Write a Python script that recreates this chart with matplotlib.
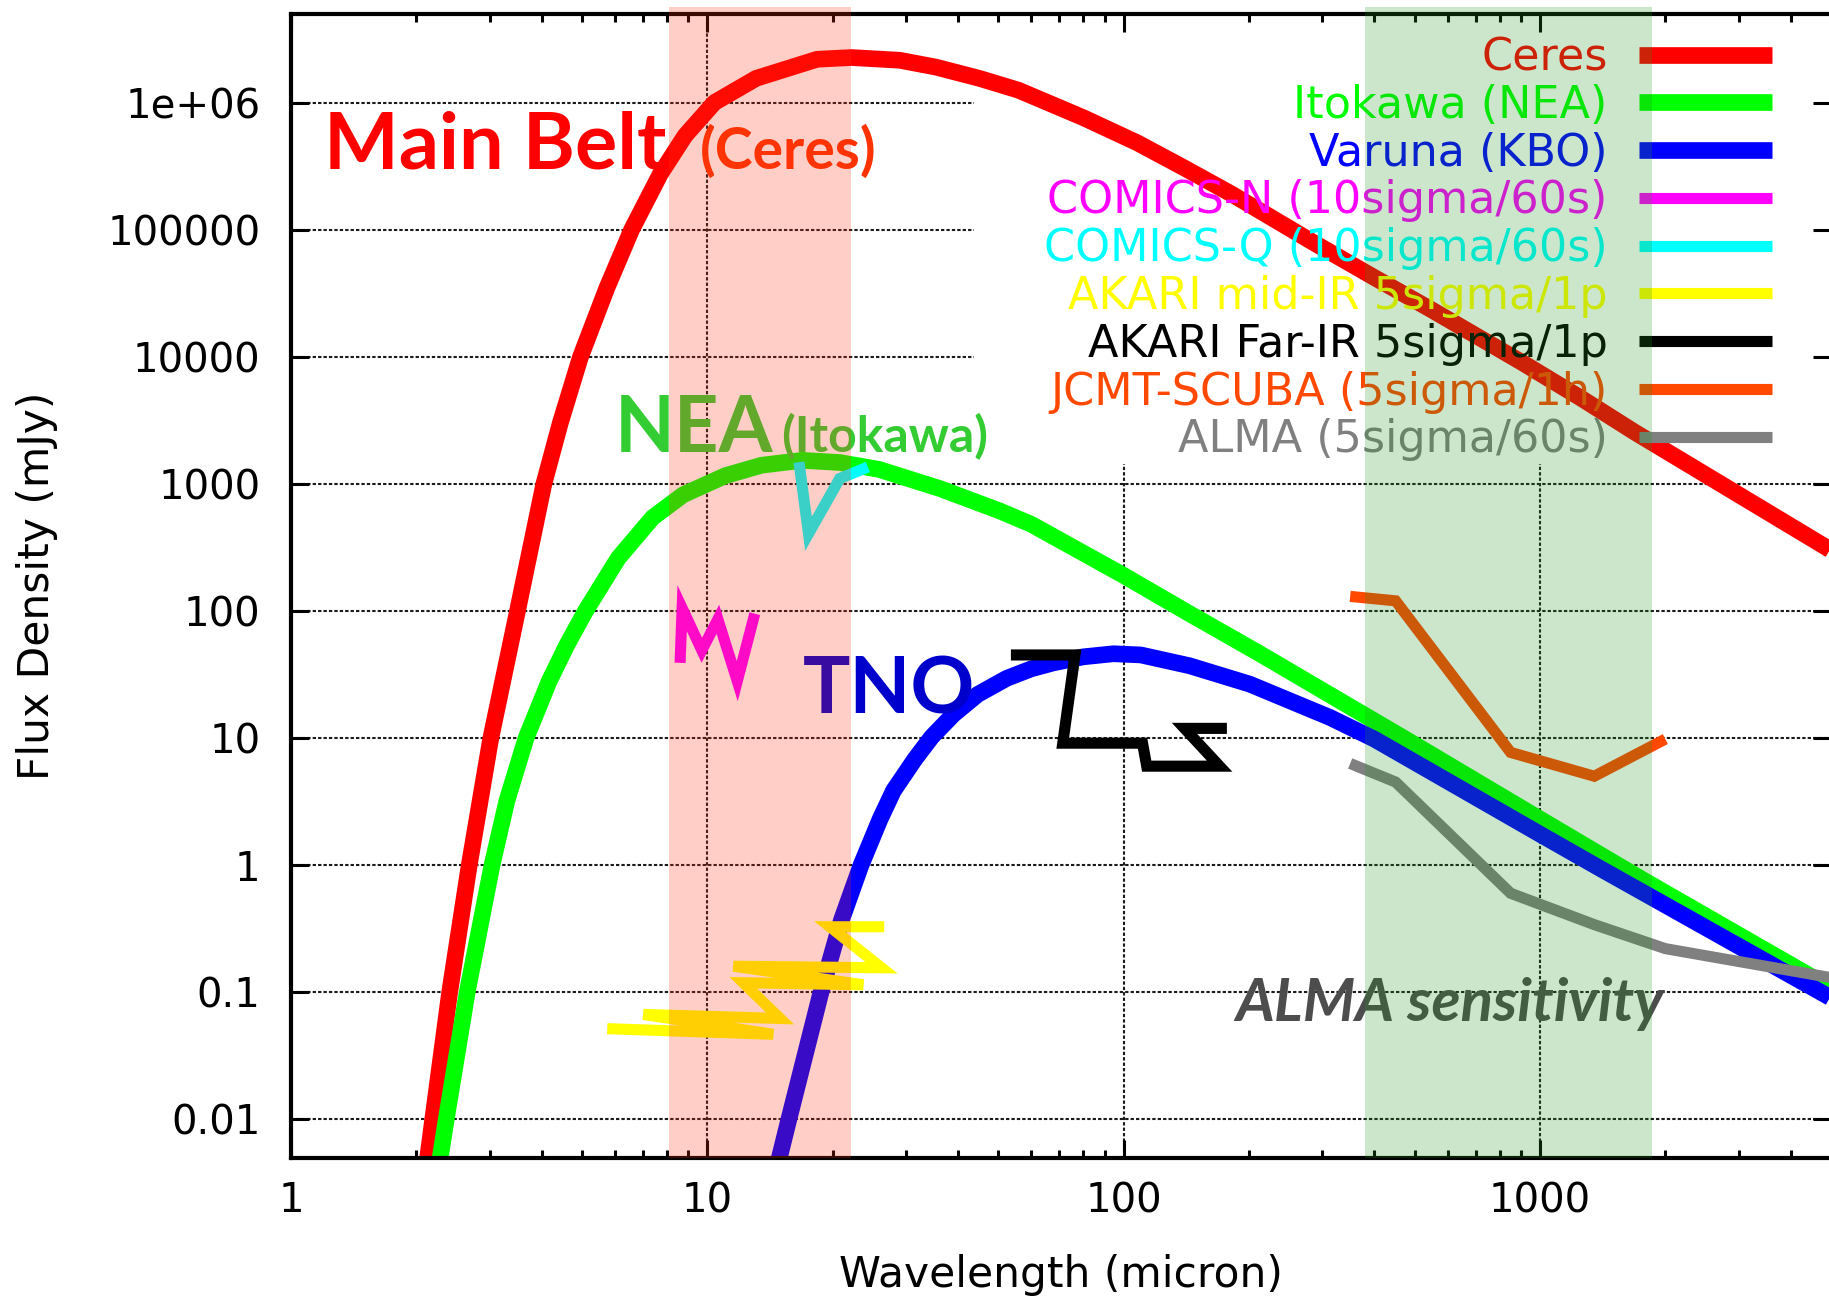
import matplotlib
matplotlib.use("Agg")
import matplotlib.pyplot as plt

plt.rcParams['font.family'] = ['DejaVu Sans']

# model SEDs (wavelength in micron, flux density in mJy)
ceres_wl = [2.09, 2.13, 2.19, 2.405, 2.68, 3.02, 3.50, 4.05, 4.44, 4.96, 5.73, 6.58, 7.71,
            8.84, 10.4, 13.1, 18.35, 22.2, 29.0, 35.4, 45.0, 55.9, 80.0, 107.7, 140, 181.9,
            287.7, 400, 554, 905.7, 1257, 1688, 5000]
ceres_flux = [0.0032, 0.005, 0.01, 0.1, 1, 10, 100, 1000, 3055, 1.0e4, 3.44e4, 1.0e5, 2.74e5,
              5.48e5, 1.0e6, 1.55e6, 2.19e6, 2.26e6, 2.15e6, 1.9e6, 1.55e6, 1.25e6, 7.6e5, 4.83e5,
              3.05e5, 1.9e5, 7.8e4, 4.2e4, 2.3e4, 9000, 4700, 2550, 300]

itokawa_wl = [2.25, 2.283, 2.36, 2.65, 3.04, 3.30, 3.67, 4.17, 4.6, 5.1, 6.11, 7.39, 8.75, 11.05,
              13.5, 16.9, 20.8, 25.8, 36.2, 50.5, 60, 100, 144, 210, 470, 1000, 1772, 4530, 5000]
itokawa_flux = [0.0035, 0.005, 0.01, 0.1, 1, 3.2, 10, 28, 54, 100, 260, 542, 820, 1159,
                1400, 1530, 1470, 1300, 917, 610, 480, 190, 95, 47, 10, 2.3, 0.76, 0.13, 0.108]

varuna_wl = [14.6, 14.9, 15.7, 18.75, 21.0, 23.4, 26.0, 28.0, 31.5, 34.6, 39.0, 44.6, 52.4, 60,
             67.8, 80, 94.5, 110, 144, 201, 313, 400, 1000, 1387, 5000]
varuna_flux = [0.0038, 0.005, 0.01, 0.1, 0.37, 1.0, 2.3, 3.85, 6.8, 10.2, 15.3, 22, 29.5, 35,
               39, 43.5, 46, 45, 37, 26.5, 14.5, 9.8, 1.75, 0.95, 0.09]

# instrument sensitivities
comics_n_wl = [8.6, 8.7, 9.7, 10.6, 11.8, 13.0]
comics_n_flux = [39, 105, 49, 86, 28, 95]

comics_q_wl = [16.6, 17.5, 20.8, 24.3]
comics_q_flux = [1480, 405, 1100, 1355]

akari_mir_wl = [5.75, 14.4, 7.02, 14.95, 12.2, 23.7, 11.55, 26.2, 19.7, 26.6]
akari_mir_flux = [0.0516, 0.0466, 0.0668, 0.0621, 0.1186, 0.1143, 0.160, 0.1556, 0.327, 0.327]

akari_fir_wl = [53.6, 76.4, 71.4, 111, 113.6, 170, 140, 177]
akari_fir_flux = [45, 45, 9.1, 9.1, 6.0, 6.0, 11.9, 11.9]

scuba_wl = [350, 450, 850, 1350, 2000]
scuba_flux = [130, 120, 7.7, 5.0, 9.8]

alma_wl = [350, 450, 850, 1350, 2000, 5000]
alma_flux = [6.3, 4.5, 0.60, 0.34, 0.22, 0.13]

# observing windows
n_q_band = (8.1, 22.1)
alma_band = (380, 1856)

ytick_vals = [0.01, 0.1, 1, 10, 100, 1000, 1e4, 1e5, 1e6]
ytick_labels = ['0.01', '0.1', '1', '10', '100', '1000', '10000', '100000', '1e+06']
xtick_vals = [1, 10, 100, 1000]
xtick_labels = ['1', '10', '100', '1000']

fig = plt.figure(figsize=(18.29, 13.02), dpi=100)
ax = fig.add_axes([291 / 1829, 1 - 1157.5 / 1302, 1540 / 1829, 1143.8 / 1302])
ax.set_xscale('log')
ax.set_yscale('log')
ax.set_xlim(1, 5000)
ax.set_ylim(0.005, 5e6)

# grid (hidden behind the key box in the upper right)
grid_kw = dict(color='#1a1a1a', lw=1.5, ls=(0, (1.6, 1.0)), zorder=0.4)
for v in ytick_vals:
    ax.axhline(v, xmax=0.4435 if v >= 1e4 else 1, **grid_kw)
for v in xtick_vals[1:]:
    ax.axvline(v, ymax=0.6063 if v >= 100 else 1, **grid_kw)

thick = dict(lw=12, solid_capstyle='butt', solid_joinstyle='round')
thin = dict(lw=8, solid_capstyle='butt', solid_joinstyle='miter')
l1, = ax.plot(ceres_wl, ceres_flux, color='#ff0000', label='Ceres', zorder=2, **thick)
l2, = ax.plot(itokawa_wl, itokawa_flux, color='#00ff00', label='Itokawa (NEA)', zorder=2.1, **thick)
l3, = ax.plot(varuna_wl, varuna_flux, color='#0000ff', label='Varuna (KBO)', zorder=2.2, **thick)
l4, = ax.plot(comics_n_wl, comics_n_flux, color='#ff00ff', label='COMICS-N (10sigma/60s)', zorder=3, **thin)
l5, = ax.plot(comics_q_wl, comics_q_flux, color='#00ffff', label='COMICS-Q (10sigma/60s)', zorder=3, **thin)
l6, = ax.plot(akari_mir_wl, akari_mir_flux, color='#ffff00', label='AKARI mid-IR 5sigma/1p', zorder=3, **thin)
l7, = ax.plot(akari_fir_wl, akari_fir_flux, color='#000000', label='AKARI Far-IR 5sigma/1p', zorder=3, **thin)
l8, = ax.plot(scuba_wl, scuba_flux, color='#ff4800', label='JCMT-SCUBA (5sigma/1h)', zorder=3, **thin)
l9, = ax.plot(alma_wl, alma_flux, color='#808080', label='ALMA (5sigma/60s)', zorder=3, **thin)

leg = ax.legend(handles=[l1, l2, l3, l4, l5, l6, l7, l8, l9], loc='upper right',
                bbox_to_anchor=(0.9617, 0.9803), frameon=False, markerfirst=False,
                labelcolor='linecolor', fontsize=32, handlelength=3.0,
                handletextpad=0.7, labelspacing=0.107, borderpad=0, borderaxespad=0)
leg.set_zorder(4)

# hand-written style annotations
hand = ['Lato', 'DejaVu Sans']
ax.text(1.20, 3.0e5, 'Main Belt', color='#ff0000', fontsize=57, fontweight='bold',
        family=hand, zorder=5)
ax.text(9.6, 3.0e5, '(Ceres)', color='#ff3300', fontsize=41, fontweight='bold',
        family=hand, zorder=5)
ax.text(6.0, 1768, 'NEA', color='#33cc33', fontsize=56, fontweight='bold',
        family=hand, zorder=5)
ax.text(15.0, 1768, '(Itokawa)', color='#33cc33', fontsize=36, fontweight='bold',
        family=hand, zorder=5)
ax.text(17.0, 15.7, 'TNO', color='#0000cc', fontsize=57, fontweight='bold',
        family=hand, zorder=5)
ax.text(186, 0.0589, 'ALMA sensitivity', color='#4d4d4d', fontsize=43, fontweight='bold',
        fontstyle='italic', family=hand, zorder=5)

# translucent wavelength windows drawn over everything
ax.axvspan(*n_q_band, ymin=0, ymax=1.006, color='#ff3310', alpha=0.23, lw=0, zorder=10, clip_on=False)
ax.axvspan(*alma_band, ymin=0, ymax=1.006, color='#239423', alpha=0.23, lw=0, zorder=10, clip_on=False)

ax.set_xticks(xtick_vals, xtick_labels)
ax.set_yticks(ytick_vals, ytick_labels)
ax.yaxis.set_minor_locator(plt.NullLocator())
ax.tick_params(which='both', direction='in', top=True, right=True, width=2.2, colors='black')
ax.tick_params(which='major', length=13, labelsize=29)
ax.tick_params(axis='x', which='major', pad=17)
ax.tick_params(axis='y', which='major', pad=22)
ax.tick_params(which='minor', length=6)
for s in ax.spines.values():
    s.set_linewidth(3)

ax.set_xlabel('Wavelength (micron)', fontsize=30.5)
ax.set_ylabel('Flux Density (mJy)', fontsize=30.5)
ax.xaxis.set_label_coords(0.5, -0.0844)
ax.yaxis.set_label_coords(-0.1513, 0.5)

fig.savefig('out.png', dpi=100)
